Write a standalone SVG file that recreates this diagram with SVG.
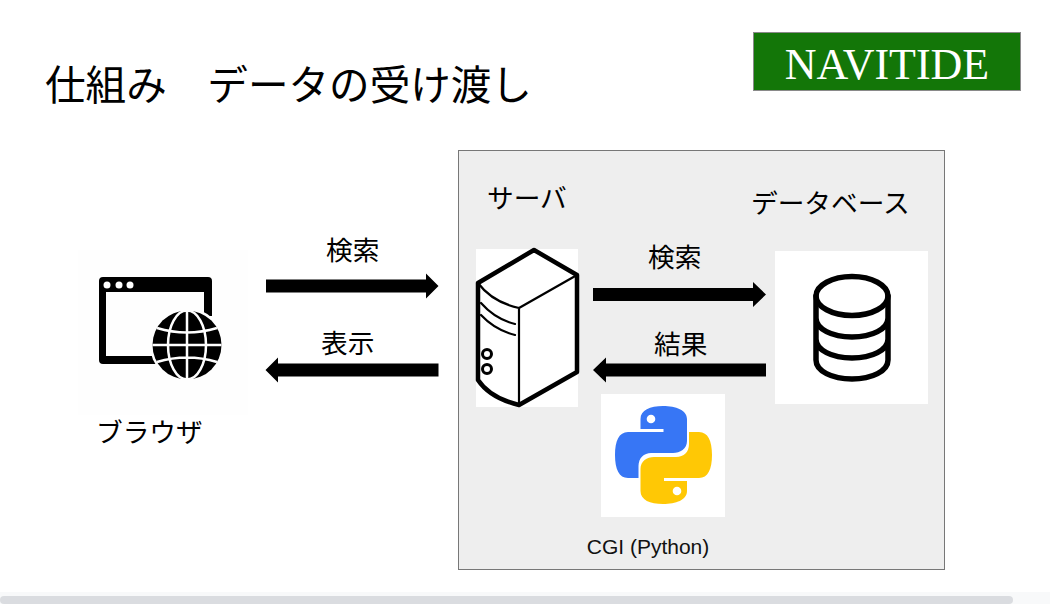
<svg xmlns="http://www.w3.org/2000/svg" width="1050" height="604" viewBox="0 0 1050 604">
<style>
.jp{font-family:"Noto Sans CJK JP","Noto Sans",sans-serif;fill:#000}
.lbl{font-size:26.700px}
.ln{fill:none;stroke:#000;stroke-linejoin:round;stroke-linecap:round}
</style>
<rect width="1050" height="604" fill="#fff"/>
<rect x="0" y="592" width="1050" height="12" fill="#f8f9fa"/>
<rect x="0" y="596" width="1013" height="8" rx="4" fill="#dadce0"/>
<text class="jp" x="45" y="100" font-size="40.600">仕組み　データの受け渡し</text>
<g id="logo">
<rect x="753.500" y="32.500" width="267" height="58" fill="#137608" stroke="#8a8a8a"/>
<text x="887" y="79" font-family="'Liberation Serif',serif" font-size="44" fill="#fff" text-anchor="middle">NAVITIDE</text>
</g>
<g id="server-box">
<rect x="458.500" y="150.500" width="486" height="419" fill="#eeeeee" stroke="#777"/>
</g>
<g id="browser">
<rect x="78" y="250" width="170" height="165" fill="#fefefe"/>
<path d="M103 277H208a4 4 0 0 1 4 4V316H204V292H106V356H160V364H103a4 4 0 0 1-4-4V281a4 4 0 0 1 4-4z"/>
<circle cx="107" cy="285" r="3.500" fill="#fff"/><circle cx="119" cy="285" r="3.500" fill="#fff"/><circle cx="130" cy="285" r="3.500" fill="#fff"/>
<circle cx="187" cy="345" r="37" fill="#fefefe"/>
<circle cx="187" cy="345" r="34.500"/>
<g fill="none" stroke="#fefefe" stroke-width="2.500">
<ellipse cx="187" cy="345" rx="19" ry="34.500"/>
<path d="M187 310.500V379.500M152.500 345H221.500M157 328Q187 337 217 328M157 362Q187 353 217 362"/>
</g>
<text class="jp lbl" x="96" y="442">ブラウザ</text>
</g>
<g id="server">
<rect x="476" y="249" width="102" height="158" fill="#fff"/>
<path class="ln" stroke-width="4.500" d="M478 283L534 250L577 275V372L519 405Q490 398 478 380Z"/>
<path class="ln" stroke-width="2.200" d="M478 283Q492 302 519 308L577 275M519 308V405"/>
<path class="ln" stroke-width="2.200" d="M481 303Q495 319 515 324M481 315Q495 330 515 335"/>
<circle cx="487" cy="354" r="4.500" fill="#fff" stroke="#000" stroke-width="3"/>
<circle cx="487" cy="369" r="4.500" fill="#fff" stroke="#000" stroke-width="3"/>
<text class="jp lbl" x="487" y="208">サーバ</text>
</g>
<g id="database">
<rect x="775" y="251" width="153" height="153" fill="#fff"/>
<g class="ln" stroke-width="5.500">
<ellipse class="ln" cx="852" cy="296" rx="36" ry="19.500"/>
<path class="ln" d="M816 296V360C816 371 832 379 852 379S888 371 888 360V296M816 318C816 329 832 337 852 337S888 329 888 318M816 339C816 350 832 358 852 358S888 350 888 339"/>
</g>
<text class="jp lbl" x="751" y="213">データベース</text>
</g>
<g id="python">
<rect x="601" y="394" width="124" height="123" fill="#fff"/>
<path fill="#3776f5" d="M663 406C650 406 640.500 410 640.500 419V429H663.500V432H628C619 432 615 441 615 455C615 469 619 478 628 478H638.500V466C638.500 458 644 453 651 453H673C680 453 687 449 687 441V419C687 410 676 406 663 406Z"/>
<circle cx="651" cy="419" r="4.300" fill="#fff"/>
<path fill="#ffc805" d="M663 504C676 504 687 500 687 491V481H664V478H699C708 478 712 469 712 455C712 441 708 432 699 432H689V444C689 452 684 457 676 457H654C647 457 640.500 461 640.500 469V491C640.500 500 650 504 663 504Z"/>
<circle cx="677" cy="491" r="4.300" fill="#fff"/>
<text x="648" y="554" font-family="'Liberation Sans',sans-serif" font-size="21" fill="#111" text-anchor="middle">CGI (Python)</text>
</g>
<g id="connectors">
<path d="M266 279.500H426V273.500L438.500 286L426 298.500V292.500H266Z"/>
<path d="M438.500 363.500H278V357.500L265.500 370L278 382.500V376.500H438.500Z"/>
<path d="M593 288H753V282L766 294.500L753 307V301H593Z"/>
<path d="M766 363.500H606V357.500L593 370L606 382.500V376.500H766Z"/>
</g>
<g id="labels">
<text class="jp lbl" x="326" y="260">検索</text>
<text class="jp lbl" x="321" y="353">表示</text>
<text class="jp lbl" x="648" y="267">検索</text>
<text class="jp lbl" x="654" y="354">結果</text>
</g>
</svg>
